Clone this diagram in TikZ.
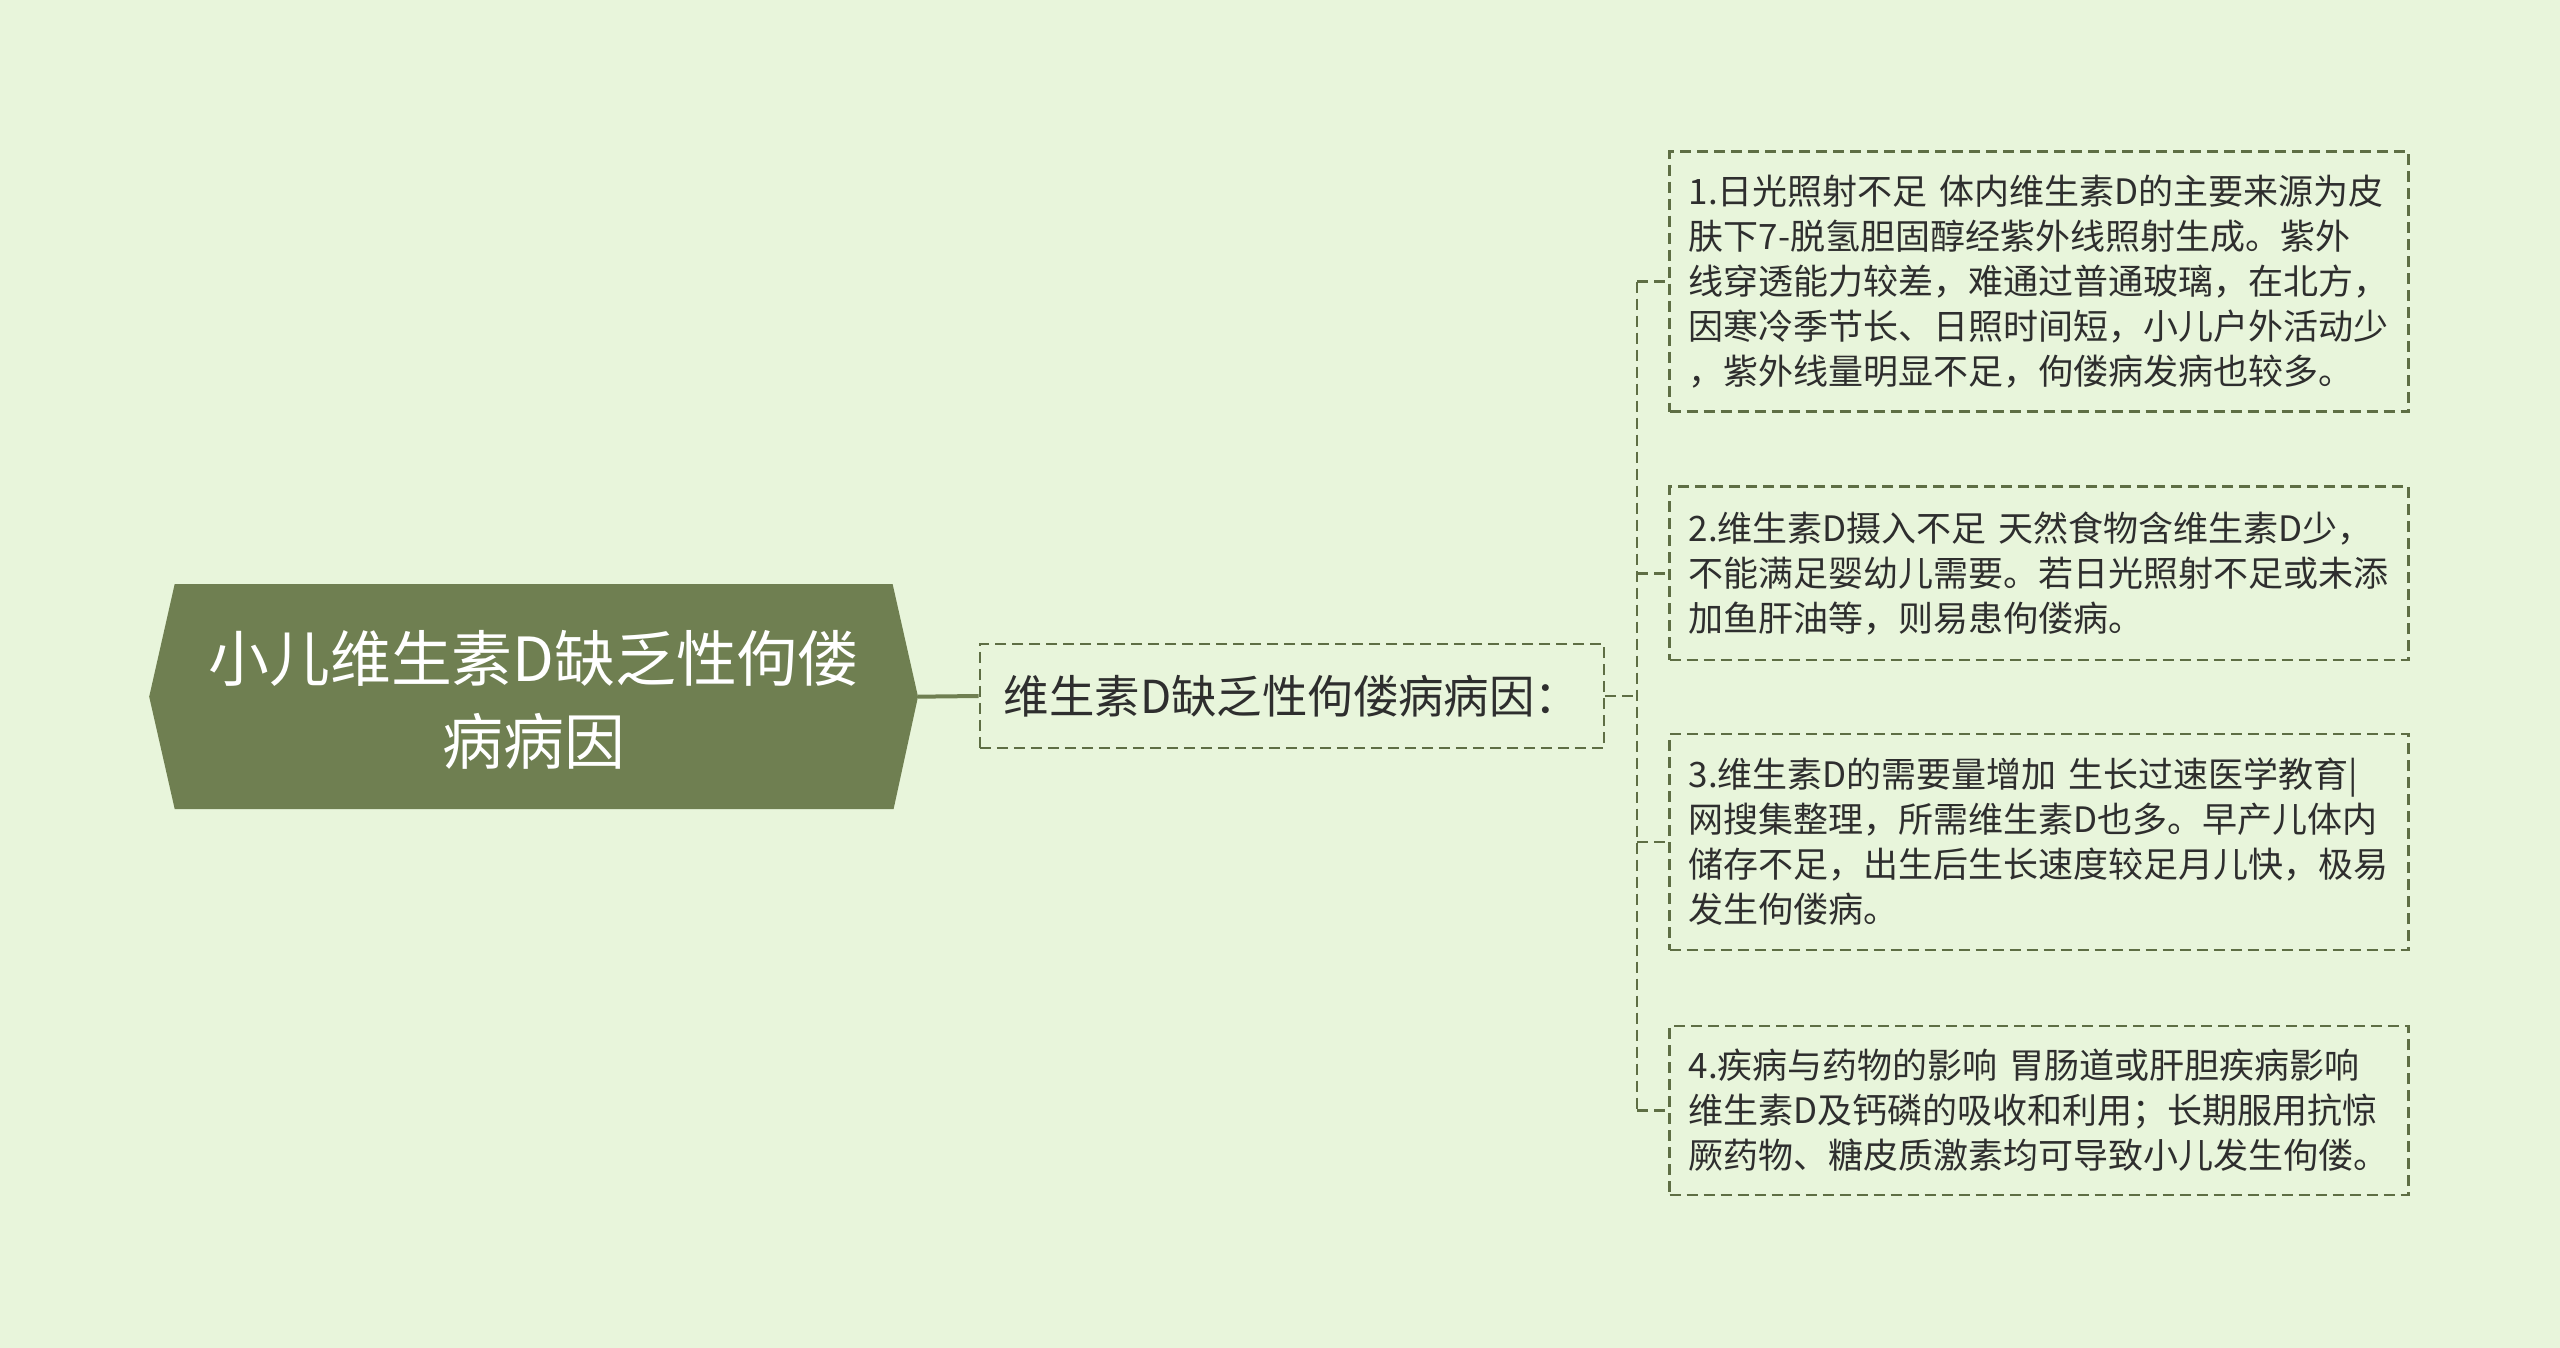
\documentclass[tikz,border=0pt]{standalone}
\usepackage{fontspec}
\setmainfont{Noto Sans CJK SC}
\newfontfamily\cjk{Noto Sans CJK SC}
\definecolor{bgc}{HTML}{E8F5DB}
\definecolor{olivec}{HTML}{6F7F51}
\definecolor{linec}{HTML}{5E6E44}
\definecolor{textc}{HTML}{2E2E2E}
\tikzset{
  dashline/.style={draw=linec, line width=1.4pt, dash pattern=on 5.5pt off 3pt},
  rbox/.style={dashline, rectangle, inner xsep=9.5pt, inner ysep=0pt,
    text width=350.5pt, align=left, text=textc,
    font=\cjk\fontsize{17.5pt}{22.5pt}\selectfont},
  midbox/.style={dashline, rectangle, minimum width=312pt, minimum height=52pt,
    inner xsep=12pt, inner ysep=0pt, text=textc,
    font=\cjk\fontsize{22.7pt}{28pt}\selectfont},
  roottext/.style={text=white, align=center, inner sep=0pt,
    font=\cjk\fontsize{30.4pt}{41.25pt}\selectfont}
}
\begin{document}
\begin{tikzpicture}[x=0.5pt,y=-0.5pt]
\useasboundingbox (0,0) rectangle (2560,1348);
\fill[bgc] (0,0) rectangle (2560,1348);
% root hexagon
\coordinate (rootW) at (149.2,696.7);
\coordinate (rootE) at (918,696.7);
\fill[olivec] (rootW) -- (174.7,584) -- (892.6,584) -- (rootE) -- (893.6,809) -- (174.7,809) -- cycle;
\node[roottext] (root) at (533.6,700) {小儿维生素D缺乏性佝偻\\病病因};
% middle
\node[midbox] (mid) at (1292,696) {维生素D缺乏性佝偻病病因：};
% right boxes
\node[rbox, minimum height=130pt] (b1) at (2039.2,281.7) {1.日光照射不足 体内维生素D的主要来源为皮\\肤下7-脱氢胆固醇经紫外线照射生成。紫外\\线穿透能力较差，难通过普通玻璃，在北方，\\因寒冷季节长、日照时间短，小儿户外活动少\\，紫外线量明显不足，佝偻病发病也较多。};
\node[rbox, minimum height=86.7pt] (b2) at (2039.2,573.3) {2.维生素D摄入不足 天然食物含维生素D少，\\不能满足婴幼儿需要。若日光照射不足或未添\\加鱼肝油等，则易患佝偻病。};
\node[rbox, minimum height=108pt] (b3) at (2039.2,842) {3.维生素D的需要量增加 生长过速医学教育|\\网搜集整理，所需维生素D也多。早产儿体内\\储存不足，出生后生长速度较足月儿快，极易\\发生佝偻病。};
\node[rbox, minimum height=84.5pt] (b4) at (2039.2,1110.5) {4.疾病与药物的影响 胃肠道或肝胆疾病影响\\维生素D及钙磷的吸收和利用；长期服用抗惊\\厥药物、糖皮质激素均可导致小儿发生佝偻。};
% connectors
\draw[olivec, line width=2pt] (rootE) -- (mid.west);
\coordinate (spM) at (1637,696);
\coordinate (sp1) at (1637,281.7);
\coordinate (sp2) at (1637,573.3);
\coordinate (sp3) at (1637,842);
\coordinate (sp4) at (1637,1110.5);
\draw[dashline] (mid.east) -- (spM);
\draw[dashline] (sp1) -- (sp4);
\draw[dashline] (sp1) -- (b1.west);
\draw[dashline] (sp2) -- (b2.west);
\draw[dashline] (sp3) -- (b3.west);
\draw[dashline] (sp4) -- (b4.west);
\end{tikzpicture}
\end{document}
